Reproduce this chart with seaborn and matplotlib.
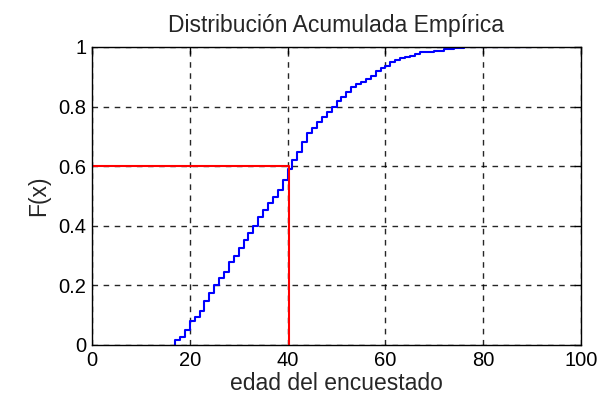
import matplotlib
matplotlib.use("Agg")
import matplotlib.pyplot as plt
import seaborn as sns
import pandas as pd

# Data (ECDF step positions and values)
ages = [17, 17, 18, 19, 20, 21, 22, 23, 24, 25, 26, 27, 28, 29, 30, 31, 32, 33, 34, 35,
        36, 37, 38, 39, 40, 41, 42, 43, 44, 45, 46, 47, 48, 49, 50, 51, 52, 53, 54, 55,
        56, 57, 58, 59, 60, 61, 62, 63, 64, 65, 66, 67, 70, 72, 74, 76, 90]
cdf = [0.0, 0.017, 0.028, 0.05, 0.08, 0.095, 0.114, 0.149, 0.175, 0.20, 0.225, 0.246, 0.28, 0.30,
       0.324, 0.352, 0.377, 0.40, 0.43, 0.453, 0.475, 0.495, 0.52, 0.555, 0.59, 0.62, 0.649,
       0.682, 0.71, 0.727, 0.75, 0.766, 0.783, 0.80, 0.82, 0.833, 0.85, 0.865, 0.876, 0.884,
       0.893, 0.904, 0.92, 0.93, 0.937, 0.949, 0.956, 0.963, 0.967, 0.97, 0.976, 0.982,
       0.985, 0.993, 0.997, 1.0, 1.0]
ref_x = [0, 40.3, 40.3]
ref_y = [0.6, 0.6, 0.0]
xticks = [0, 20, 40, 60, 80, 100]
yticks = [0, 0.2, 0.4, 0.6, 0.8, 1.0]
ytick_labels = ["0", "0.2", "0.4", "0.6", "0.8", "1"]

sns.set_style("white")
plt.rcParams['font.family'] = ['Liberation Sans', 'DejaVu Sans']

fig = plt.figure(figsize=(5.98, 4.08), dpi=100)
ax = fig.add_axes([92 / 598, 1 - 345 / 408, (581 - 92) / 598, (345 - 47) / 408])

df = pd.DataFrame({"x": ages, "F": cdf})
sns.lineplot(data=df, x="x", y="F", ax=ax, estimator=None, sort=False,
             drawstyle="steps-post", color="#0000ff", linewidth=1.5, zorder=3)
dref = pd.DataFrame({"x": ref_x, "y": ref_y})
sns.lineplot(data=dref, x="x", y="y", ax=ax, estimator=None, sort=False,
             color="#ff0000", linewidth=1.5, zorder=4)

ax.set_xlim(0, 100)
ax.set_ylim(0, 1)
ax.set_xticks(xticks)
ax.set_xticklabels([str(t) for t in xticks])
ax.set_yticks(yticks)
ax.set_yticklabels(ytick_labels)
ax.grid(True, color="black", linestyle=(0, (4, 4)), linewidth=1.0, alpha=0.85)
ax.tick_params(direction="in", length=5, width=1, top=True, right=True,
               labelsize=14.5, colors="black", pad=4)
for s in ax.spines.values():
    s.set_color("black")
    s.set_linewidth(1.0)
    s.set_visible(True)
    s.set_zorder(5)

ax.set_xlabel("edad del encuestado", fontsize=16.5, labelpad=2)
ax.set_ylabel("F(x)", fontsize=16.5, labelpad=6)
ax.set_title("Distribución Acumulada Empírica", fontsize=16.5, pad=11)

fig.savefig("out.png", dpi=100, facecolor="white")
